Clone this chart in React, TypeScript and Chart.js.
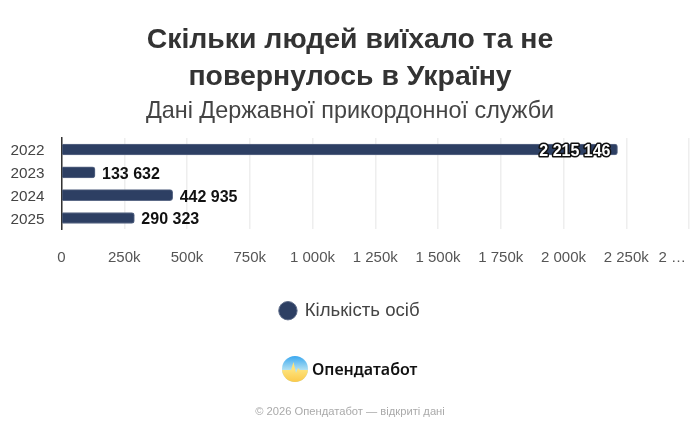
import React, { useEffect, useRef } from 'react';
import Chart from 'chart.js/auto';

const years = ['2022', '2023', '2024', '2025'];
const people = [2215146, 133632, 442935, 290323];
const titleLines = ['Скільки людей виїхало та не', 'повернулось в Україну'];
const subtitleText = 'Дані Державної прикордонної служби';
const seriesName = 'Кількість осіб';

const FONT = '"Liberation Sans", Arial, sans-serif';
const BAR = '#2d3f63';

document.body.style.margin = '0';

const spaced = (n: number) => String(n).replace(/\B(?=(\d{3})+(?!\d))/g, ' ');

// value labels next to the bars, the long one sits inside with an outline
const valueLabels = {
  id: 'valueLabels',
  afterDatasetsDraw(chart: any) {
    const { ctx } = chart;
    const meta = chart.getDatasetMeta(0);
    ctx.save();
    ctx.font = 'bold 16px ' + FONT;
    ctx.textBaseline = 'middle';
    meta.data.forEach((bar: any, i: number) => {
      const text = spaced(people[i]);
      if (people[i] > 2000000) {
        ctx.textAlign = 'right';
        ctx.lineWidth = 3;
        ctx.lineJoin = 'round';
        ctx.strokeStyle = '#111';
        ctx.strokeText(text, bar.x - 7, bar.y + 2);
        ctx.fillStyle = '#fff';
        ctx.fillText(text, bar.x - 7, bar.y + 2);
      } else {
        ctx.textAlign = 'left';
        ctx.fillStyle = '#111';
        ctx.fillText(text, bar.x + 7, bar.y + 2);
      }
    });
    ctx.restore();
  },
};

// last x tick does not fit, so it is cut short like in the original
const lastTick = {
  id: 'lastTick',
  afterDraw(chart: any) {
    const { ctx, scales } = chart;
    ctx.save();
    ctx.font = '15px ' + FONT;
    ctx.fillStyle = '#555';
    ctx.textAlign = 'right';
    ctx.textBaseline = 'middle';
    ctx.fillText('2 …', chart.width - 14, scales.x.top + 28);
    ctx.restore();
  },
};

export default function App() {
  const canvasRef = useRef<HTMLCanvasElement | null>(null);

  useEffect(() => {
    if (!canvasRef.current) return;
    const chart = new Chart(canvasRef.current, {
      type: 'bar',
      data: {
        labels: years,
        datasets: [
          {
            label: seriesName,
            data: people,
            backgroundColor: BAR,
            borderColor: '#5c6a87',
            borderWidth: 1,
            borderRadius: 3,
            borderSkipped: 'left',
            barThickness: 11,
          },
        ],
      },
      plugins: [valueLabels, lastTick],
      options: {
        indexAxis: 'y',
        responsive: false,
        animation: false,
        devicePixelRatio: 1,
        layout: { padding: { left: 0, right: 0, top: 22, bottom: 102 } },
        scales: {
          x: {
            min: 0,
            max: 2500000,
            afterBuildTicks: (axis: any) => {
              axis.ticks = [0, 1, 2, 3, 4, 5, 6, 7, 8, 9, 10].map((k) => ({ value: k * 250000 }));
            },
            afterFit: (axis: any) => {
              axis.height = 62;
              axis.paddingRight = 11;
            },
            grid: { color: '#eeeeee', lineWidth: 1.5, drawTicks: false },
            border: { display: false },
            ticks: {
              autoSkip: false,
              maxRotation: 0,
              padding: 19,
              color: '#555',
              font: { family: FONT, size: 15 },
              callback: (v: any) => {
                if (v === 0) return '0';
                if (v >= 2500000) return '';
                return spaced(v / 1000) + 'k';
              },
            },
          },
          y: {
            afterFit: (axis: any) => {
              axis.width = 61.5;
            },
            grid: { display: false, drawTicks: false },
            border: { display: true, color: '#333', width: 1.5 },
            ticks: {
              padding: 17,
              labelOffset: 1.5,
              color: '#444',
              font: { family: FONT, size: 15.3 },
            },
          },
        },
        plugins: {
          title: {
            display: true,
            text: titleLines,
            color: '#333',
            font: { family: FONT, size: 28.4, weight: 'bold', lineHeight: 1.303 },
            padding: { top: 0, bottom: 1 },
          },
          subtitle: {
            display: true,
            text: subtitleText,
            color: '#444',
            font: { family: FONT, size: 23.4, weight: 'normal', lineHeight: 1.2 },
            padding: { top: 0, bottom: 13 },
          },
          legend: {
            display: true,
            position: 'bottom',
            labels: {
              usePointStyle: true,
              pointStyle: 'circle',
              color: '#444',
              boxWidth: 15,
              boxHeight: 13,
              font: { family: FONT, size: 18.6 },
            },
          },
          tooltip: { enabled: false },
        },
      },
    } as any);
    return () => chart.destroy();
  }, []);

  return (
    <div style={{ position: 'relative', width: 700, height: 432, background: '#fff', overflow: 'hidden' }}>
      <canvas ref={canvasRef} width={700} height={432} style={{ display: 'block' }} />
      <svg width="26" height="26" viewBox="0 0 26 26" style={{ position: 'absolute', left: 282, top: 356 }}>
        <defs>
          <linearGradient id="sky" x1="0" y1="0" x2="0" y2="1">
            <stop offset="0" stopColor="#3aa8f0" />
            <stop offset="0.55" stopColor="#b5e2f2" />
          </linearGradient>
          <linearGradient id="sun" x1="0" y1="0" x2="0" y2="1">
            <stop offset="0.4" stopColor="#fde27a" />
            <stop offset="1" stopColor="#fbc94a" />
          </linearGradient>
          <clipPath id="disc">
            <circle cx="13" cy="13" r="13" />
          </clipPath>
        </defs>
        <g clipPath="url(#disc)">
          <rect width="26" height="26" fill="url(#sky)" />
          <path d="M0 14 H9 L11.5 6 L14 17 L16 12 L18 14 H26 V26 H0 Z" fill="url(#sun)" />
        </g>
      </svg>
      <div
        style={{
          position: 'absolute',
          left: 312,
          top: 358,
          fontFamily: '"Noto Sans", sans-serif',
          fontWeight: 600,
          fontSize: 16,
          lineHeight: '22px',
          color: '#111',
        }}
      >
        Опендатабот
      </div>
      <div
        style={{
          position: 'absolute',
          left: 0,
          width: 700,
          top: 404,
          textAlign: 'center',
          fontFamily: FONT,
          fontSize: 11.2,
          lineHeight: '14px',
          color: '#aaa',
        }}
      >
        © 2026 Опендатабот — відкриті дані
      </div>
    </div>
  );
}
